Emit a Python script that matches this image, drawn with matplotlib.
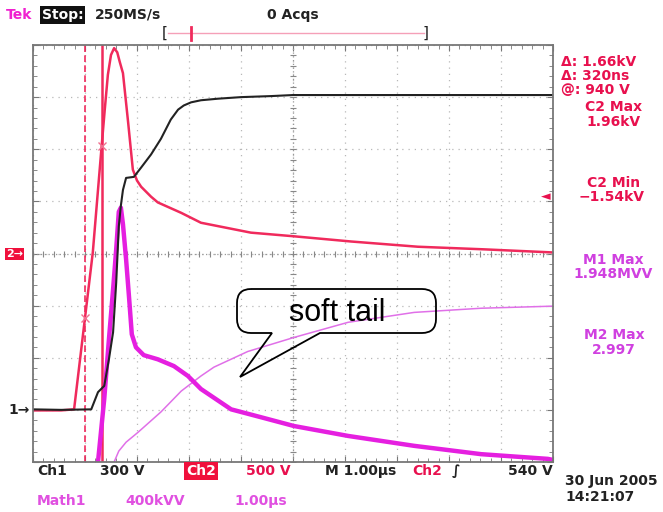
import numpy as np
import matplotlib.pyplot as plt
from matplotlib.path import Path
import matplotlib.patches as patches

# time in us from the left edge of the screen, amplitude in divisions
t_ch1 = [0, 0.54, 1.12, 1.25, 1.37, 1.46, 1.54, 1.60, 1.63, 1.65, 1.69, 1.73, 1.79,
         1.94, 2.08, 2.27, 2.46, 2.65, 2.79, 2.90, 3.04, 3.23, 3.56, 4.0, 4.58, 5.0,
         6.12, 7.08, 8.04, 9.0, 10.0]
v_ch1 = [-2.99, -3.0, -2.99, -2.66, -2.54, -2.03, -1.51, -0.56, 0.08, 0.52, 0.92, 1.22,
         1.45, 1.47, 1.65, 1.90, 2.20, 2.57, 2.76, 2.84, 2.90, 2.94, 2.97, 3.0, 3.02,
         3.04, 3.04, 3.04, 3.04, 3.04, 3.04]

t_ch2 = [0, 0.54, 0.79, 1.15, 1.31, 1.38, 1.44, 1.50, 1.56, 1.62, 1.67, 1.73, 1.83,
         1.92, 2.00, 2.08, 2.27, 2.40, 2.85, 3.23, 4.19, 5.02, 6.12, 7.40, 8.67, 10.0]
v_ch2 = [-3.01, -3.01, -2.99, 0.02, 1.94, 2.76, 3.43, 3.81, 3.94, 3.86, 3.67, 3.46,
         2.51, 1.61, 1.40, 1.28, 1.09, 0.98, 0.78, 0.59, 0.40, 0.33, 0.23, 0.13, 0.08,
         0.02]

t_m1 = [1.25, 1.37, 1.46, 1.54, 1.60, 1.65, 1.69, 1.73, 1.79, 1.85, 1.90, 1.98, 2.13,
        2.40, 2.71, 2.98, 3.23, 3.81, 4.38, 5.02, 6.06, 7.33, 8.62, 9.90, 10.0]
v_m1 = [-4.0, -2.79, -1.65, -0.69, 0.08, 0.80, 0.88, 0.56, -0.11, -0.88, -1.55, -1.80,
        -1.95, -2.03, -2.16, -2.35, -2.60, -2.99, -3.14, -3.31, -3.50, -3.69, -3.85,
        -3.94, -3.96]

t_m2 = [1.56, 1.65, 1.79, 2.02, 2.46, 2.85, 3.23, 3.48, 4.13, 5.02, 6.06, 7.33, 8.62, 10.0]
v_m2 = [-4.0, -3.79, -3.62, -3.43, -3.04, -2.64, -2.35, -2.18, -1.88, -1.61, -1.32,
        -1.13, -1.05, -1.01]

cursors = [1.0, 1.32]

RED = '#f02a5c'
TXTRED = '#e8104e'
MAG = '#e51fe0'
MAG2 = '#e070e8'
BLK = '#222222'

W, H = 663, 512
fig = plt.figure(figsize=(W / 100, H / 100), dpi=100)
ax = fig.add_axes([33 / W, 1 - 462 / H, 520 / W, 417 / H])
ax.set_xlim(0, 10)
ax.set_ylim(-4, 4)

# graticule
ax.set_xticks(np.arange(0, 11, 1))
ax.set_yticks(np.arange(-4, 5, 1))
ax.set_xticks(np.arange(0, 10.01, 0.2), minor=True)
ax.set_yticks(np.arange(-4, 4.01, 0.2), minor=True)
ax.tick_params(which='both', direction='in', top=True, right=True,
               labelbottom=False, labelleft=False, color='#777777')
ax.tick_params(which='major', length=4)
ax.tick_params(which='minor', length=3)
ax.grid(True, which='major', color='#b8b8b8', linestyle=(0, (1, 4)), linewidth=0.9)
for s in ax.spines.values():
    s.set_color('#777777')
    s.set_linewidth(1.3)
ax.axhline(0, color='#999999', linestyle=(0, (1, 2)), linewidth=0.9)
ax.axvline(5, color='#999999', linestyle=(0, (1, 2)), linewidth=0.9)
tk = np.arange(0, 10.01, 0.2)
ax.plot(tk, np.zeros_like(tk), linestyle='none', marker='|', ms=5, color='#888888', mew=0.8)
tk = np.arange(-4, 4.01, 0.2)
ax.plot(np.full_like(tk, 5), tk, linestyle='none', marker='_', ms=5, color='#888888', mew=0.8)

# cursors
ax.axvline(cursors[0], color=RED, linestyle=(0, (4, 2)), linewidth=1.2)
ax.axvline(cursors[1], color=RED, linewidth=1.8)

# traces
ax.plot(t_m2, v_m2, color=MAG2, linewidth=1.1)
ax.plot(t_m1, v_m1, color=MAG, linewidth=3.2)
ax.plot(t_ch2, v_ch2, color=RED, linewidth=1.8)
ax.plot(t_ch1, v_ch1, color=BLK, linewidth=1.5)
ax.plot([cursors[1], cursors[0]], [np.interp(cursors[1], t_ch2, v_ch2),
                                   np.interp(cursors[0], t_ch2, v_ch2)],
        linestyle='none', marker='x', ms=6, color='#f07090', mew=1)


# text on the screen, positions in pixels
def txt(x, y, s, color=BLK, ha='left', size=10, **kw):
    fig.text(x / W, 1 - y / H, s, color=color, ha=ha, va='center', fontsize=size,
             fontweight='bold', family='DejaVu Sans', **kw)


txt(6, 15, 'Tek', color='#f020d0')
txt(42, 15, 'Stop:', color='white',
    bbox=dict(facecolor='#111111', edgecolor='none', pad=1.2))
txt(95, 15, '250MS/s')
txt(267, 15, '0 Acqs')

txt(561, 62, '\u0394: 1.66kV', color=TXTRED)
txt(561, 76, '\u0394: 320ns', color=TXTRED)
txt(561, 90, '@: 940 V', color=TXTRED)
txt(614, 107, 'C2 Max', color=TXTRED, ha='center')
txt(614, 122, '1.96kV', color=TXTRED, ha='center')
txt(614, 183, 'C2 Min', color=TXTRED, ha='center')
txt(612, 197, '\u22121.54kV', color=TXTRED, ha='center')
txt(613, 260, 'M1 Max', color='#d040e0', ha='center')
txt(613, 274, '1.948MVV', color='#d040e0', ha='center')
txt(614, 335, 'M2 Max', color='#d040e0', ha='center')
txt(614, 350, '2.997', color='#d040e0', ha='center')
txt(541, 197, '\u25c4', color=TXTRED, size=9)

txt(37, 471, 'Ch1')
txt(100, 471, '300 V')
txt(186, 471, 'Ch2', color='white',
    bbox=dict(facecolor='#f0103c', edgecolor='none', pad=1.2))
txt(246, 471, '500 V', color=TXTRED)
txt(325, 471, 'M 1.00\u00b5s')
txt(412, 471, 'Ch2', color=TXTRED)
txt(452, 471, '\u222b')
txt(508, 471, '540 V')
txt(565, 481, '30 Jun 2005')
txt(565, 497, '14:21:07')
txt(37, 501, 'Math1', color='#e050e0')
txt(125, 501, '400kVV', color='#e050e0')
txt(234, 501, '1.00\u00b5s', color='#e050e0')

txt(8, 410, '1\u2192', size=10)
txt(6, 254, '2\u2192', color='white',
    bbox=dict(facecolor='#f0103c', edgecolor='none', pad=0.8), size=8)

# overlay in pixel units for trigger bar and callout
ov = fig.add_axes([0, 0, 1, 1], facecolor='none')
ov.set_xlim(0, W)
ov.set_ylim(H, 0)
ov.axis('off')
ov.plot([168, 424], [33, 33], color='#f5a0b8', linewidth=1.0)
ov.plot([191, 191], [27, 40], color=RED, linewidth=2)
ov.text(165, 33, '[', ha='center', va='center', fontsize=11, color=BLK)
ov.text(426, 33, ']', ha='center', va='center', fontsize=11, color=BLK)

x0, x1, y0, y1, r = 237, 436, 289, 333, 14
verts = [(x0 + r, y0), (x1 - r, y0), (x1, y0), (x1, y0 + r), (x1, y1 - r), (x1, y1),
         (x1 - r, y1), (320, y1), (240, 377), (272, y1), (x0 + r, y1), (x0, y1),
         (x0, y1 - r), (x0, y0 + r), (x0, y0), (x0 + r, y0)]
codes = [Path.MOVETO, Path.LINETO, Path.CURVE3, Path.CURVE3, Path.LINETO, Path.CURVE3,
         Path.CURVE3, Path.LINETO, Path.LINETO, Path.LINETO, Path.LINETO, Path.CURVE3,
         Path.CURVE3, Path.LINETO, Path.CURVE3, Path.CURVE3]
ov.add_patch(patches.PathPatch(Path(verts, codes), facecolor='none', edgecolor='black',
                               linewidth=1.3))
ov.text(337, 313, 'soft tail', ha='center', va='center', fontsize=22,
        family='Liberation Sans', color='black')

fig.savefig('out.png', dpi=100)
